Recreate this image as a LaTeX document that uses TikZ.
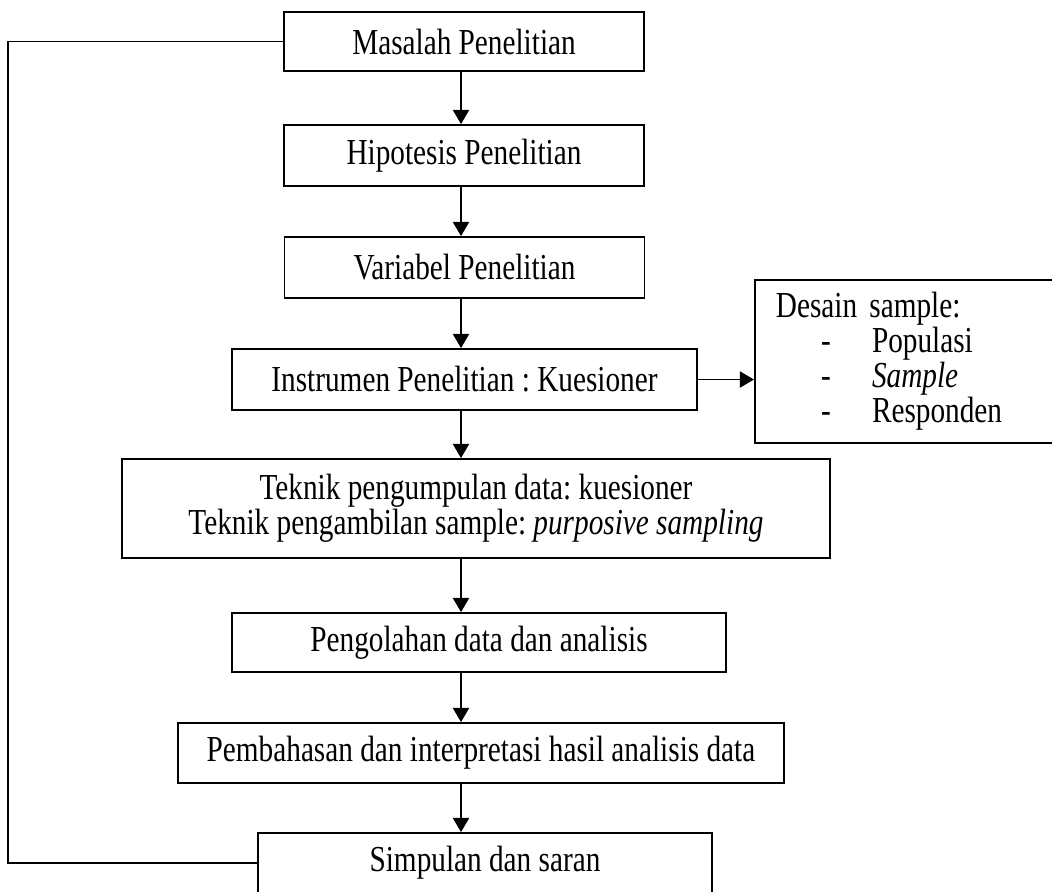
\documentclass[tikz,border=0pt]{standalone}
\usepackage{fontspec}
\setmainfont{Liberation Serif}[FakeStretch=0.8]
\usetikzlibrary{arrows.meta,positioning}
\frenchspacing

\newcommand{\pxu}{0.41pt}

\tikzset{
  stagebox/.style 2 args={draw, line width=0.75pt, minimum width=#1*\pxu,
    minimum height=#2*\pxu, inner sep=0pt, align=center},
  flow/.style={line width=0.75pt, -{Triangle[width=6.6pt,length=5.8pt]}},
  loopline/.style={line width=0.75pt}
}

\begin{document}
\begin{tikzpicture}[x=\pxu, y=-\pxu, font=\fontsize{15}{14.4}\selectfont]
        \useasboundingbox (0,0) rectangle (1052,891);
        \clip (0,0) rectangle (1052,891);

        % Main flow
        \node[stagebox={360}{59}] (mas) at (464,41.5) {Masalah Penelitian};
        \node[stagebox={360}{61}] (hip) at (464,155.5) {Hipotesis Penelitian};
        \node[stagebox={360}{61}] (var) at (464.5,267.5) {Variabel Penelitian};
        \node[stagebox={465}{61}] (ins) at (464.5,379.5) {Instrumen Penelitian : Kuesioner};
        \node[stagebox={708}{99}] (tek) at (476,508.5) {Teknik pengumpulan data: kuesioner\\
          Teknik pengambilan sample: \textit{purposive sampling}};
        \node[stagebox={494}{59}] (olah) at (479,642.5) {Pengolahan data dan analisis};
        \node[stagebox={606}{60}] (bahas) at (481,753) {Pembahasan dan interpretasi hasil analisis data};
        \node[stagebox={454}{60}] (simp) at (485,863) {Simpulan dan saran};

        % Sample design box
        \node[draw, line width=0.75pt, anchor=north west, minimum width=322*\pxu,
          minimum height=163*\pxu, inner xsep=21*\pxu, text width=280*\pxu,
          align=left] (des) at (754,279) {\mbox{Desain sample:}\\
          \hspace*{18.5pt}\makebox[20.9pt][l]{-}Populasi\\
          \hspace*{18.5pt}\makebox[20.9pt][l]{-}\textit{Sample}\\
          \hspace*{18.5pt}\makebox[20.9pt][l]{-}Responden};

        % Arrows down the spine
        \coordinate (spine) at (461,0);
        \foreach \a/\b in {mas/hip, hip/var, var/ins, ins/tek, tek/olah, olah/bahas, bahas/simp} {
          \draw[flow] (\a.south -| spine) -- (\b.north -| spine);
        }
        \draw[flow] (ins.east) -- (ins.east -| des.west);

        % Feedback loop
        \coordinate (fb) at (8,450);
        \draw[loopline] (mas.west) -| (fb) |- (simp.west);
      \end{tikzpicture}
\end{document}
